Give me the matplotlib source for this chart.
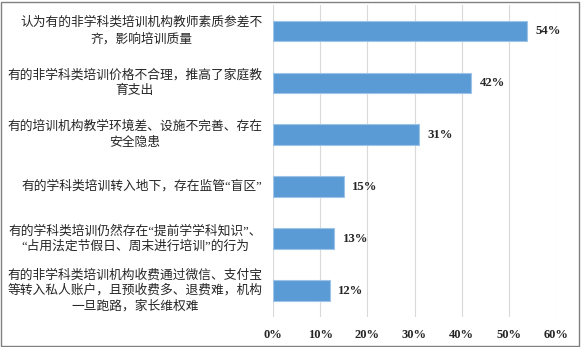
import matplotlib.pyplot as plt
from matplotlib.patches import Rectangle
from matplotlib.transforms import blended_transform_factory, offset_copy

# 数据
labels = [
    '认为有的非学科类培训机构教师素质参差不\n齐，影响培训质量',
    '有的非学科类培训价格不合理，推高了家庭教\n育支出',
    '有的培训机构教学环境差、设施不完善、存在\n安全隐患',
    '有的学科类培训转入地下，存在监管“盲区”',
    '有的学科类培训仍然存在“提前学学科知识”、\n“占用法定节假日、周末进行培训”的行为',
    '有的非学科类培训机构收费通过微信、支付宝\n等转入私人账户，且预收费多、退费难，机构\n一旦跑路，家长维权难',
]
values = [54, 42, 31, 15, 13, 12]
ticks = [0, 10, 20, 30, 40, 50, 60]
tick_labels = ['0%', '10%', '20%', '30%', '40%', '50%', '60%']

W, H = 581, 347
fig = plt.figure(figsize=(W / 100, H / 100), dpi=100)
ax = fig.add_axes([273.3 / W, 1 - 316.7 / H, (555.7 - 273.3) / W, (316.7 - 5) / H])

pos = list(range(len(values)))
ax.barh(pos, values, height=0.4, color='#5B9BD5', edgecolor='#9DC3E6', linewidth=0.8, zorder=3)
ax.set_ylim(len(values) - 0.5, -0.5)
ax.set_xlim(0, 60)

for p, v in zip(pos, values):
    ax.text(v + 1.8, p, f'{v}%', va='center', ha='left', fontsize=9.2,
            fontweight='bold', family='Liberation Serif', color='#262626')

ax.set_xticks(ticks)
ax.set_xticklabels(tick_labels, fontsize=9, fontweight='bold',
                   family='Liberation Serif', color='#262626')
ax.set_yticks(pos)
ax.set_yticklabels([])
ax.tick_params(axis='both', length=0)
ax.tick_params(axis='x', pad=9)

# 分类标签：整块右对齐，每行居中
font = dict(fontsize=9.2, family=['Liberation Serif', 'Noto Sans CJK SC'], color='#262626')
renderer = fig.canvas.get_renderer()
base = blended_transform_factory(ax.transAxes, ax.transData)
right_pad = 11
line_step = 15.8
for p, lab in zip(pos, labels):
    lines = lab.split('\n')
    widths = []
    for ln in lines:
        t = fig.text(0, 0, ln, **font)
        widths.append(t.get_window_extent(renderer).width)
        t.remove()
    cx = -right_pad - max(widths) / 2
    n = len(lines)
    for i, ln in enumerate(lines):
        dy = -(i - (n - 1) / 2) * line_step
        tr = offset_copy(base, fig=fig, x=cx, y=dy, units='dots')
        ax.text(0, p, ln, transform=tr, ha='center', va='center', **font)

ax.grid(axis='x', color='#D9D9D9', linewidth=0.8, zorder=0)
for s in ax.spines.values():
    s.set_visible(False)

fig.patches.append(Rectangle((0.5 / W, 1.5 / H), (W - 2.5) / W, (H - 3) / H,
                             transform=fig.transFigure, fill=False,
                             edgecolor='#808080', linewidth=1.0))

fig.savefig('out.png', dpi=100)
